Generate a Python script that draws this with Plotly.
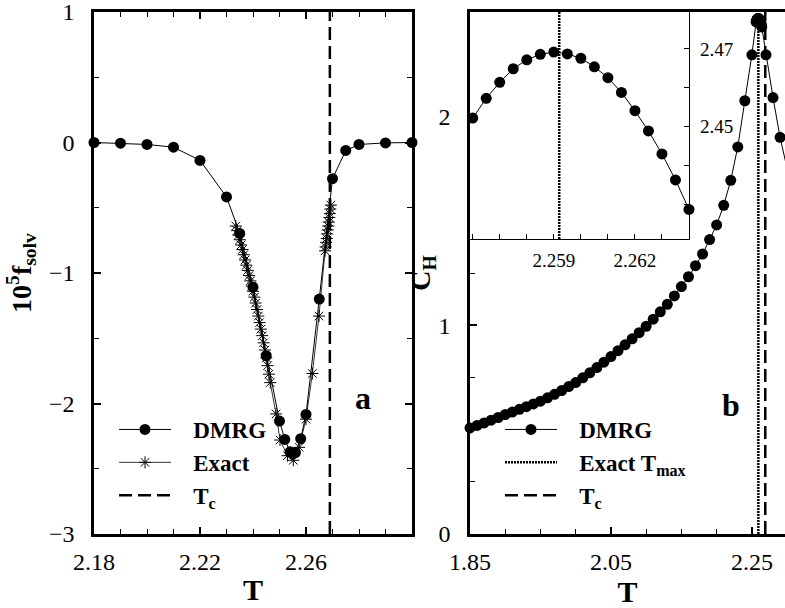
import plotly.graph_objects as go

# ---------------- data: panel a ----------------
T_dmrg_a = [2.18, 2.19, 2.20, 2.21, 2.22, 2.23, 2.235, 2.24, 2.245, 2.25, 2.252, 2.254,
            2.255, 2.256, 2.258, 2.26, 2.265, 2.27, 2.275, 2.28, 2.29, 2.30]
f_dmrg_a = [0.0, -0.005, -0.015, -0.036, -0.137, -0.417, -0.697, -1.109, -1.634, -2.135, -2.275, -2.37,
            -2.385, -2.376, -2.27, -2.084, -1.20, -0.277, -0.061, -0.015, -0.003, 0.0]

T_exact_a = [2.2335, 2.2340, 2.2345, 2.2350, 2.2355, 2.2360, 2.2365, 2.2370, 2.2375, 2.2380,
             2.2385, 2.2390, 2.2395, 2.2400, 2.2405, 2.2410, 2.2415, 2.2420, 2.2425, 2.2430,
             2.2435, 2.2440, 2.2445, 2.2450, 2.2455, 2.2460, 2.2465,
             2.2487, 2.2502, 2.2530, 2.2552, 2.2574, 2.2600, 2.2624, 2.2649,
             2.2672, 2.2674, 2.2676, 2.2678, 2.2680, 2.2682, 2.2684, 2.2686, 2.2688, 2.2690,
             2.2692, 2.2694]
f_exact_a = [-0.64, -0.675, -0.71, -0.745, -0.785, -0.82, -0.86, -0.90, -0.94, -0.98,
             -1.02, -1.06, -1.10, -1.14, -1.185, -1.23, -1.28, -1.33, -1.38, -1.43,
             -1.48, -1.535, -1.59, -1.65, -1.71, -1.775, -1.84,
             -2.08, -2.28, -2.40, -2.435, -2.336, -2.12, -1.77, -1.33,
             -0.83, -0.80, -0.765, -0.735, -0.70, -0.67, -0.64, -0.61, -0.575, -0.545,
             -0.51, -0.48]

Tc = 2.269
T_max_exact = 2.2592

# ---------------- data: panel b ----------------
T_low = [1.85, 1.86, 1.87, 1.88, 1.89, 1.90, 1.91, 1.92, 1.93, 1.94, 1.95, 1.96, 1.97, 1.98,
         1.99, 2.00, 2.01, 2.02, 2.03, 2.04, 2.05, 2.06, 2.07, 2.08, 2.09, 2.10, 2.11, 2.12,
         2.13, 2.14, 2.15, 2.16, 2.17, 2.18, 2.19, 2.20, 2.21, 2.22, 2.23, 2.24, 2.25]
C_low = [0.508, 0.520, 0.532, 0.545, 0.558, 0.572, 0.584, 0.597, 0.610, 0.623, 0.636, 0.652,
         0.669, 0.687, 0.706, 0.725, 0.748, 0.772, 0.797, 0.823, 0.850, 0.878, 0.906, 0.935,
         0.964, 0.995, 1.029, 1.064, 1.100, 1.140, 1.185, 1.232, 1.285, 1.341, 1.410, 1.480,
         1.574, 1.694, 1.854, 2.075, 2.295]

T_peak = [2.2560, 2.2565, 2.2570, 2.2575, 2.2580, 2.2585, 2.2590, 2.2595, 2.2600, 2.2605,
          2.2610, 2.2615, 2.2620, 2.2625, 2.2630, 2.2635, 2.2640]
C_peak = [2.4522, 2.4573, 2.4614, 2.4649, 2.4672, 2.4686, 2.4692, 2.4687, 2.4676, 2.4654,
          2.4626, 2.4588, 2.4541, 2.4489, 2.4430, 2.4363, 2.4287]

T_high = [2.27, 2.28, 2.29, 2.30]
C_high = [2.295, 2.090, 1.900, 1.750]

FONT = "Liberation Serif"
BLACK = "black"
PAD = "\u00a0\u00a0\u00a0"

fig = go.Figure()

# panel a
fig.add_trace(go.Scatter(x=T_dmrg_a, y=f_dmrg_a, mode="lines+markers", name=PAD + "DMRG",
                         line=dict(color=BLACK, width=1),
                         marker=dict(symbol="circle", size=11, color=BLACK),
                         xaxis="x", yaxis="y", legend="legend", cliponaxis=False))
fig.add_trace(go.Scatter(x=T_exact_a, y=f_exact_a, mode="lines+markers", name=PAD + "Exact",
                         line=dict(color=BLACK, width=0.8),
                         marker=dict(symbol="asterisk-open", size=10,
                                     line=dict(color=BLACK, width=1)),
                         xaxis="x", yaxis="y", legend="legend"))
fig.add_trace(go.Scatter(x=[Tc, Tc], y=[-3, 1], mode="lines", name=PAD + "T<sub>c</sub>",
                         line=dict(color=BLACK, width=2.5, dash="13px,6px"),
                         xaxis="x", yaxis="y", legend="legend"))

# panel b main
T_main = T_low + T_peak + T_high
C_main = C_low + C_peak + C_high
fig.add_trace(go.Scatter(x=T_main, y=C_main, mode="lines+markers", name=PAD + "DMRG",
                         line=dict(color=BLACK, width=1),
                         marker=dict(symbol="circle", size=11, color=BLACK),
                         xaxis="x2", yaxis="y2", legend="legend2", cliponaxis=False))
fig.add_trace(go.Scatter(x=[T_max_exact, T_max_exact], y=[0, 2.5], mode="lines",
                         name=PAD + "Exact T<sub>max</sub>",
                         line=dict(color=BLACK, width=2.5, dash="2px,1px"),
                         xaxis="x2", yaxis="y2", legend="legend2"))
fig.add_trace(go.Scatter(x=[Tc, Tc], y=[0, 2.5], mode="lines", name=PAD + "T<sub>c</sub>",
                         line=dict(color=BLACK, width=2.5, dash="13px,6px"),
                         xaxis="x2", yaxis="y2", legend="legend2"))

# inset
fig.add_trace(go.Scatter(x=T_peak, y=C_peak, mode="lines+markers", showlegend=False,
                         line=dict(color=BLACK, width=1),
                         marker=dict(symbol="circle", size=11, color=BLACK),
                         xaxis="x3", yaxis="y3", cliponaxis=False))
fig.add_trace(go.Scatter(x=[T_max_exact, T_max_exact], y=[2.4211, 2.4795], mode="lines",
                         showlegend=False,
                         line=dict(color=BLACK, width=2.5, dash="2px,1px"),
                         xaxis="x3", yaxis="y3"))

W, H = 785, 608
def px_x(p):
    return p / W
def px_y(p):
    return 1 - p / H

tickfont = dict(family=FONT, size=24, color=BLACK)
minor_common = dict(ticks="inside", ticklen=5, tickwidth=1.2, tickcolor=BLACK, showgrid=False)
common = dict(automargin=False, ticklabeloverflow="allow", showgrid=False, zeroline=False,
              tickcolor=BLACK, linecolor=BLACK, showline=True, ticks="inside")

fig.update_layout(
    template="none",
    width=W, height=H,
    margin=dict(l=0, r=0, t=0, b=0, autoexpand=False),
    paper_bgcolor="white", plot_bgcolor="white",
    font=dict(family=FONT, color=BLACK),
    xaxis=dict(domain=[px_x(94), px_x(412)], range=[2.18, 2.30], anchor="y",
               tickvals=[2.18, 2.22, 2.26], ticktext=["2.18", "2.22", "2.26"],
               ticklen=7, tickwidth=1.5, linewidth=2.5, mirror="allticks",
               tickfont=tickfont, ticklabelstandoff=4,
               minor=dict(dtick=0.01, tick0=2.18, **minor_common),
               title=dict(text="<b>T</b>", font=dict(family=FONT, size=30), standoff=6),
               **common),
    yaxis=dict(domain=[px_y(534), px_y(12)], range=[-3, 1], anchor="x",
               tickvals=[-3, -2, -1, 0, 1], ticktext=["\u22123", "\u22122", "\u22121", "0", "1"],
               ticklen=7, tickwidth=1.5, linewidth=2.5, mirror="allticks",
               tickfont=tickfont, ticklabelstandoff=12,
               minor=dict(dtick=0.5, tick0=-3, **minor_common),
               title=dict(text="<b>10<sup>5</sup>f<sub>solv</sub></b>",
                          font=dict(family=FONT, size=28), standoff=10),
               **common),
    xaxis2=dict(domain=[px_x(470), 1.0], range=[1.85, 2.297], anchor="y2",
                tickvals=[1.85, 2.05, 2.25], ticktext=["1.85", "2.05", "2.25"],
                ticklen=7, tickwidth=1.5, linewidth=2.5, mirror=True,
                tickfont=tickfont, ticklabelstandoff=4,
                minor=dict(dtick=0.05, tick0=1.85, **minor_common),
                title=dict(text="<b>T</b>", font=dict(family=FONT, size=30), standoff=6),
                **common),
    yaxis2=dict(domain=[px_y(534), px_y(12)], range=[0, 2.5], anchor="x2",
                tickvals=[0, 1, 2], ticktext=["0", "1", "2"],
                ticklen=7, tickwidth=1.5, linewidth=2.5, mirror=False,
                tickfont=tickfont, ticklabelstandoff=12,
                minor=dict(dtick=0.25, tick0=0, **minor_common),
                title=dict(text="<b>C<sub>H</sub></b>",
                           font=dict(family=FONT, size=28), standoff=0),
                **common),
    xaxis3=dict(domain=[px_x(470), px_x(689)], range=[2.2559, 2.2640], anchor="y3",
                tickvals=[2.259, 2.262], ticktext=["2.259", "2.262"],
                ticklen=5, tickwidth=1.2, linewidth=1.2, mirror=False,
                tickfont=dict(family=FONT, size=19, color=BLACK), ticklabelstandoff=4,
                minor=dict(dtick=0.001, tick0=2.256, **minor_common),
                **common),
    yaxis3=dict(domain=[px_y(239), px_y(12)], range=[2.4211, 2.4795], anchor="x3",
                side="right",
                tickvals=[2.45, 2.47], ticktext=["2.45", "2.47"],
                ticklen=5, tickwidth=1.2, linewidth=1.2, mirror=False,
                tickfont=dict(family=FONT, size=19, color=BLACK), ticklabelstandoff=6,
                minor=dict(dtick=0.01, tick0=2.42, **minor_common),
                **common),
    legend=dict(x=px_x(114), y=px_y(408), xanchor="left", yanchor="top",
                bgcolor="rgba(0,0,0,0)", itemwidth=52, tracegroupgap=0,
                font=dict(family=FONT, size=23, color=BLACK, weight="bold")),
    legend2=dict(x=px_x(500), y=px_y(408), xanchor="left", yanchor="top",
                 bgcolor="rgba(0,0,0,0)", itemwidth=52, tracegroupgap=0,
                 font=dict(family=FONT, size=23, color=BLACK, weight="bold")),
    annotations=[
        dict(text="<b>a</b>", x=2.2815, y=-1.96, xref="x", yref="y", showarrow=False,
             font=dict(family=FONT, size=32, color=BLACK)),
        dict(text="<b>b</b>", x=2.2205, y=0.62, xref="x2", yref="y2", showarrow=False,
             font=dict(family=FONT, size=32, color=BLACK)),
    ],
)

fig.write_html("out.html")
